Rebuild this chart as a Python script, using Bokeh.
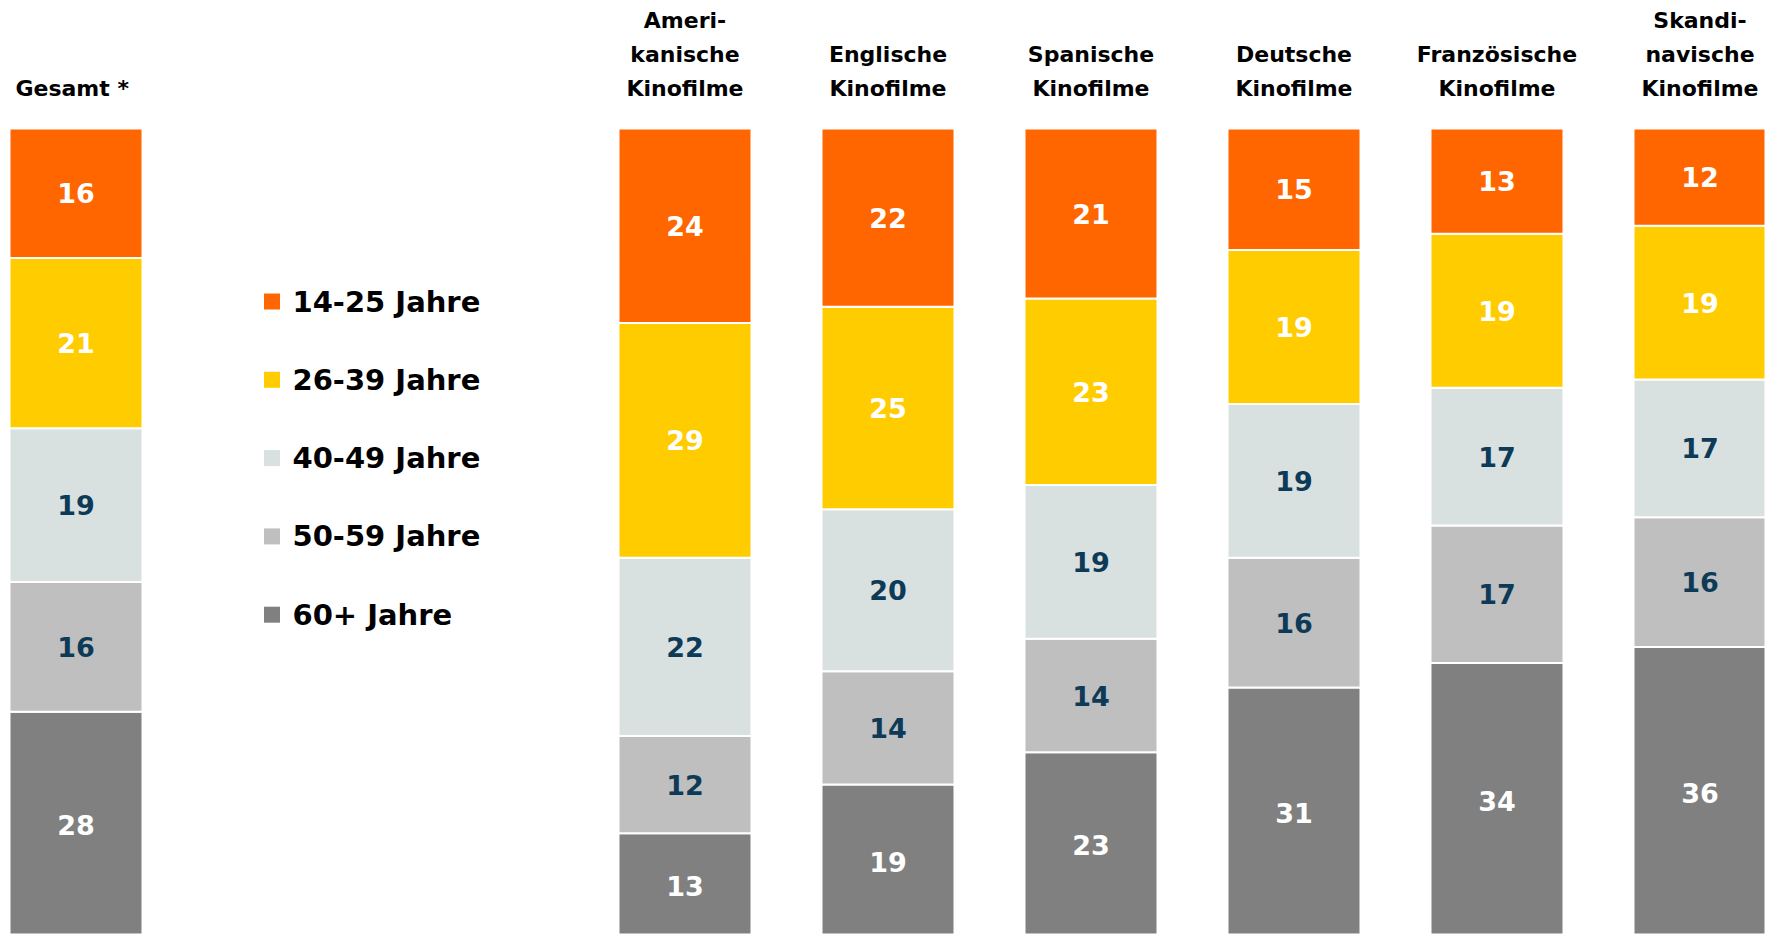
from bokeh.plotting import figure
from bokeh.models import ColumnDataSource, Range1d
from bokeh.core.properties import value
from bokeh.embed import file_html
from bokeh.resources import INLINE

# ---- data ----
categories = ["Gesamt *", "Amerikanische Kinofilme", "Englische Kinofilme",
              "Spanische Kinofilme", "Deutsche Kinofilme",
              "Französische Kinofilme", "Skandinavische Kinofilme"]
header_lines = [["Gesamt  *"], ["Ameri-", "kanische", "Kinofilme"],
                ["Englische", "Kinofilme"], ["Spanische", "Kinofilme"],
                ["Deutsche", "Kinofilme"], ["Französische", "Kinofilme"],
                ["Skandi-", "navische", "Kinofilme"]]
slot = [0, 3, 4, 5, 6, 7, 8]
age_groups = ["14-25 Jahre", "26-39 Jahre", "40-49 Jahre", "50-59 Jahre", "60+ Jahre"]
v_14_25 = [16, 24, 22, 21, 15, 13, 12]
v_26_39 = [21, 29, 25, 23, 19, 19, 19]
v_40_49 = [19, 22, 20, 19, 19, 17, 17]
v_50_59 = [16, 12, 14, 14, 16, 17, 16]
v_60 = [28, 13, 19, 23, 31, 34, 36]

# ---- styles ----
colors = {"14-25 Jahre": "#FF6600", "26-39 Jahre": "#FFCC00",
          "40-49 Jahre": "#D9E1E0", "50-59 Jahre": "#BFBFBF", "60+ Jahre": "#808080"}
label_colors = {"14-25 Jahre": "white", "26-39 Jahre": "white",
                "40-49 Jahre": "#0D3A57", "50-59 Jahre": "#0D3A57", "60+ Jahre": "white"}
FONT = value("DejaVu Sans")

W, H = 1765, 934
XPX = 203.0      # px per slot
UNIT = 8.1       # px per percent
X0 = -75.5 / XPX
Y_END = 100 + 128 / UNIT

def px_x(page_x):
    return X0 + page_x / XPX

def px_y(page_y):
    return Y_END - page_y / UNIT

p = figure(width=W, height=H, output_backend="svg", toolbar_location=None,
           x_range=Range1d(X0, X0 + W / XPX), y_range=Range1d(Y_END - H / UNIT, Y_END),
           x_axis_type=None, y_axis_type=None, min_border=0)
p.outline_line_color = None
p.grid.visible = False
p.background_fill_color = "white"
p.border_fill_color = "white"

series = {"14-25 Jahre": v_14_25, "26-39 Jahre": v_26_39, "40-49 Jahre": v_40_49,
          "50-59 Jahre": v_50_59, "60+ Jahre": v_60}
stack_order = ["60+ Jahre", "50-59 Jahre", "40-49 Jahre", "26-39 Jahre", "14-25 Jahre"]

src = ColumnDataSource(dict(x=slot, **series))
p.vbar_stack(stack_order, x="x", width=133 / XPX, source=src,
             color=[colors[g] for g in stack_order], line_color="white", line_width=2)

# segment labels
lx, ly, lt, lc = [], [], [], []
for i in range(len(slot)):
    base = 0
    for g in stack_order:
        v = series[g][i]
        lx.append(slot[i]); ly.append(base + v / 2); lt.append(str(v)); lc.append(label_colors[g])
        base += v
p.text(x=lx, y=ly, text=lt, text_color=lc, text_font=FONT, text_font_style="bold",
       text_font_size="27px", text_align="center", text_baseline="middle")

# headers
hx, hy, ht = [], [], []
line_pages = [20, 54, 88]
for i, lines in enumerate(header_lines):
    n = len(lines)
    for j, t in enumerate(lines):
        hx.append(slot[i]); hy.append(px_y(line_pages[3 - n + j])); ht.append(t)
p.text(x=hx, y=hy, text=ht, text_color="black", text_font=FONT, text_font_style="bold",
       text_font_size="22px", text_align="center", text_baseline="middle")

# legend
leg_pages = [301 + 78.3 * k for k in range(len(age_groups))]
p.scatter(x=[px_x(271.5)] * len(age_groups), y=[px_y(v) for v in leg_pages],
          marker="square", size=16, color=[colors[g] for g in age_groups], line_color=None)
p.text(x=[px_x(292)] * len(age_groups), y=[px_y(v) for v in leg_pages], text=age_groups,
       text_color="black", text_font=FONT, text_font_style="bold", text_font_size="29px",
       text_align="left", text_baseline="middle")

open("out.html", "w").write(file_html(p, INLINE))
